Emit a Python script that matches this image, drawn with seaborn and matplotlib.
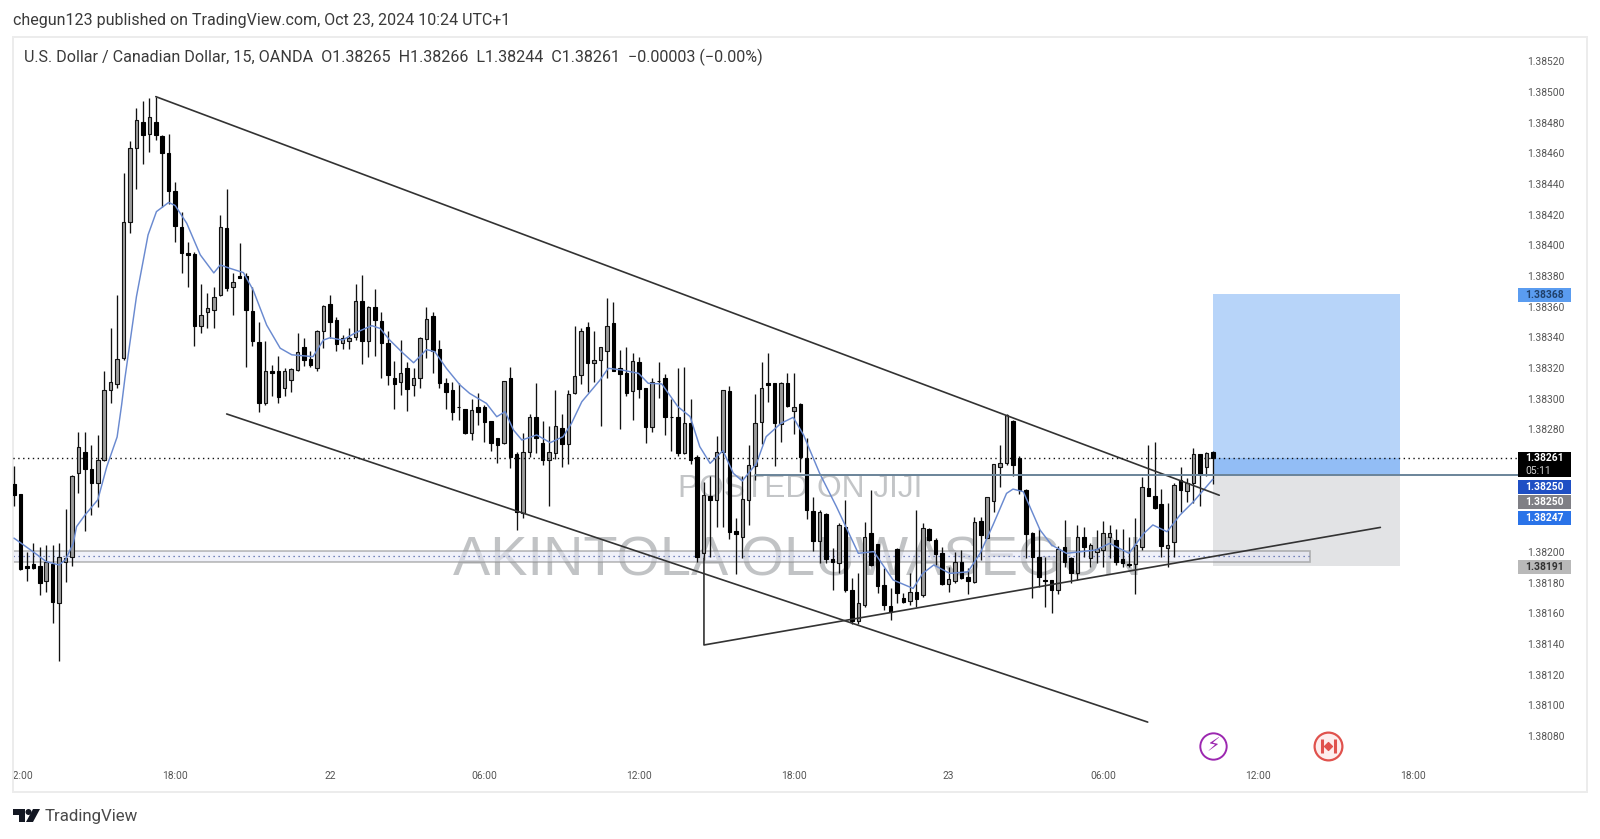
import pandas as pd
import numpy as np
import matplotlib.pyplot as plt
from matplotlib.patches import Rectangle, Polygon, Circle
import seaborn as sns

# USDCAD 15m candles, prices as points above 1.38000
base = 1.38
candle_open = [244,237.6,190.5,192.2,190.5,181.3,192,166.5,193.7,197,
    251.3,265.5,254,245.2,260,305.7,309.6,326.4,415.5,463.3,
    480.3,472.5,480.3,471,460,435.7,412,394.9,394.2,347.5,
    356.4,357.9,367.7,411.2,372.7,380,380,357.2,336.8,297.4,
    317.7,318,306.8,312,318.8,333.5,325.6,319.7,344.3,361.5,
    351.3,336,337.6,340,363.9,337.6,360,350.8,336,313.7,
    311,319.7,308.9,313.2,338.7,353.9,332.1,310,305.6,294.7,
    293,277.4,294.3,294.7,285.4,274.1,271.3,313.7,263.7,225.2,
    265.4,288.2,270.8,260,264.7,281,270.2,303.4,315.4,346.5,
    323,325.2,331.3,349.6,319.8,316.5,305.2,323.9,306.7,281.7,
    311.7,313.7,288.3,288.3,264.4,283.9,262.2,199.1,236.5,233.9,
    265.4,305,213.9,209.6,233.9,256.1,285,310,310,283.5,
    310,292.2,296.5,261.1,227,207.2,224.6,195.2,192.6,216.5,
    175.2,155,165.4,212.2,205,178.4,164.7,201.7,169.7,168.2,
    174.1,171.9,214.7,207.8,199.1,178.9,181.3,193.6,183.4,180.6,
    220.2,209.3,233.4,255.6,257.8,285.6,261,240.4,212.1,196.9,
    181.7,181.7,175.2,203.4,195.8,186,209.5,195.8,200,201.3,
    210,207.8,195.4,191.9,192.1,203.4,241.5,236.5,231.3,202.3,
    206.7,247,240,245.2,263.7,255.6,265]
candle_high = [256,238,200,206,203.5,204.6,204.4,206,228,250,
    278.5,278,269.8,276,317.7,346,367.7,447,468,489.9,
    494.4,496,497,472,472.5,441.6,422,402.5,395.5,374.6,
    368.8,373,419.9,436.6,381.8,401.4,381.8,372.7,350.3,337.9,
    322,327.5,319.9,320,342.7,339.5,331,344.5,361,367.6,
    353.4,341.5,345.8,374.5,380.6,360.4,371.3,356.3,344,324.7,
    338.2,324.1,319.7,340,360,356.3,338.2,313.7,311,310,
    293,299.5,303.9,295.8,285.4,274.1,311.7,320.4,265.4,277.8,
    289.8,310,285.6,282.1,305.6,290,305.6,347.6,345.8,350.2,
    344,334,365.9,363.3,331.7,333.5,330,327.4,306.7,313.3,
    324.1,315.9,299.6,319.8,320.4,299.6,263.3,245.9,249.6,275.9,
    305.7,308.3,222,249.6,269.8,303,324.1,330,310,311,
    317,317,297.4,274.1,235.7,227.4,225.2,202.4,218.7,233.9,
    182.8,186.5,219.8,240.4,205,189.3,176.2,202.3,173,186.5,
    227.3,219,215.4,208.9,203,190.4,200.2,201.2,189.3,223,
    223,236,257.3,269.7,290,286,262.8,240.8,213.2,214.7,
    196.9,181.7,203.9,220.8,196.9,217.6,216,206,214.3,220.2,
    217.6,214.7,214.7,209.9,221.9,249.1,269.7,271.5,240.8,231.7,
    244.7,255.2,248,268,263.7,265.4,266]
candle_low = [230,188,181,189,172,174,153.5,129,180.7,191,
    238.3,213.7,224,229.6,259,297,307,325,408.3,437,
    453,460.7,468.8,425,427,402,382,372.7,334.4,343,
    346.4,346.4,367,370.5,354.6,379,320.5,334.4,291.5,296,
    301.8,297.4,301.8,304.6,317.7,321,320.4,318.2,332.8,339.3,
    331.3,332.1,332.1,338.2,322.6,327.4,328,313.2,308.9,293.2,
    302.4,292.1,301.7,306.7,326.3,316.5,306.7,293.2,286,286,
    277,273,282.8,271.9,265.8,258.2,270.4,254.5,214.6,222.4,
    262.1,264.3,256.7,230,260.6,255.6,257.4,303,309.5,304.1,
    311,282.4,313.3,318,280.2,301.7,286.1,300.2,271.3,278,
    300.2,276.3,266.1,262.8,263.9,257.2,193.7,194.8,197,216.1,
    216.1,208.3,185.7,195.9,217.6,247,270.2,298,256.3,272,
    294.4,276.7,252,221.3,200.9,192.6,193,175.2,186,174,
    153,153,164,191,173.5,162.1,155.6,166.5,167,165.4,
    164.3,170.4,207,191.5,178.4,174.1,180,182.1,172.6,179.5,
    194.7,208.9,226.3,242.6,256.7,249.5,237.8,195.8,169.7,177.3,
    163.9,160.4,172.6,190.4,179.5,181.7,196.9,190.4,192.6,190.4,
    195.8,191.5,190.4,190.4,172.6,201.3,236.5,228,196.5,190.4,
    196.5,226.3,232.4,231.7,230,249.5,244]
candle_close = [237,188.7,189.2,189.2,179.6,193.3,167.2,197,195.9,249.6,
    268.7,254,245.2,260,305.7,311,325.7,415.5,463.8,481.8,
    472,484,472,460,435.5,412.9,395,393.8,347.5,354.6,
    359,366.6,412.2,372,376.4,379,357.9,337.7,297.4,317.7,
    316.6,300.9,318,319.6,330.7,325.5,321.9,344.1,360.6,350,
    335.6,339.7,339.7,363.9,337.6,360,351.3,336,315.4,309.5,
    316.9,306,313.7,339.7,351.7,331.3,310.4,304.5,291,294.3,
    277.4,292.6,291.3,285,271.3,269.7,311.7,262.1,225.8,265.4,
    288.2,274.1,260,265.4,282.1,270.2,303,315,344.3,323,
    325.2,333.5,347.6,318.3,315.9,303.9,324.8,306.1,281.7,310.7,
    311.3,287.8,287.8,264.4,283.9,260,196.9,237.2,233.9,265.4,
    305.7,213.3,211.7,234.4,256.7,283.9,306.7,308.7,284.4,310.4,
    295.2,294.8,261.7,227.4,207.2,226.3,195.2,193.7,217.6,175.2,
    155,167,210,191.5,177.8,165.4,161,173,167.1,174.1,
    169.1,215.4,207.8,198.6,179.1,182.1,193.6,182.8,181.3,219.3,
    211,236,257.3,258.2,289.3,256.7,240.4,211.7,196.9,183.4,
    181.3,175.2,201.7,193.6,186,209.5,203,204.5,201.7,212.1,
    212.1,193.6,192.6,191.5,204.5,242.1,236.5,228.4,203.9,204.5,
    243.7,240.4,244.8,263.7,250.9,264.3,261]

# moving average, sampled along the blue line (bar index, points)
ema_bar = [0,3,5,7,8,9.2,9.7,11,13,14.4,16,16.7,17.2,19,20.8,22.1,24,25,26.8,28.9,31,32,33.5,35.6,37.1,39.2,41.3,43.1,
    46.4,48,49,51,53,55.5,56.8,58.3,60.4,62,64,65.3,67.1,69.2,70.7,73.3,74.9,76.2,77.5,78.8,81.1,83.2,85.2,86.5,88.1,
    90.9,92.2,94.3,96.9,98.4,100.5,103,104.9,106.4,108,110,111.6,113,115.2,116.7,119,120.9,122.5,125,127.6,131,133.4,
    136.4,139.5,141,142.7,145.2,148,149.9,151.9,154,155,156.6,159.2,161,163.3,167.9,170,173,175.3,176.7,178.9,180.9,183,186]
ema_pts = [209,200,193.7,191.5,195,205.7,216.5,224,234,255.7,275,296,313,366.6,406.8,422,428,426,414.4,393.8,382,387.2,385,382.2,370.9,348,332.9,328.6,
    327.4,338.2,339.7,338.2,343,347.6,345.8,338.2,329.5,323.4,332,330.6,319.7,308.9,303.4,296.9,288.2,291.5,279.5,273,276.3,271.3,275.2,283.9,298,
    312,319.8,318.7,316.5,310,309.6,294.8,288.3,268.7,257.8,266.1,251.3,246.3,257.8,275.2,283.9,287.8,276.3,251.3,229.6,199.1,200.2,
    181.7,176.2,186,191.5,186,187,199.1,217.6,238.2,241,239.3,214.3,204.5,199.1,201.3,205.6,199.1,212.1,217.6,213.2,224,232.8,247.4]

price_ticks = [520,500,480,460,440,420,400,380,360,340,320,300,280,200,180,160,140,120,100,80]
time_ticks = [1,25,49,73,97,121,145,169,193,217]
time_labels = ["12:00","18:00","22","06:00","12:00","18:00","23","06:00","12:00","18:00"]


def pr(pts):
    return base + np.asarray(pts, dtype=float) / 1e5


df = pd.DataFrame({"bar": np.arange(len(candle_open)), "open": pr(candle_open), "high": pr(candle_high),
                   "low": pr(candle_low), "close": pr(candle_close)})
df["up"] = df["close"] >= df["open"]
ema = pd.DataFrame({"bar": ema_bar, "price": pr(ema_pts)})

sns.set_theme(style="white")
plt.rcParams["font.family"] = ["Roboto", "DejaVu Sans"]

W, H = 1600, 839
fig = plt.figure(figsize=(W / 100, H / 100), dpi=100, facecolor="white")
ax = fig.add_axes([13 / W, (H - 792) / H, 1574 / W, 755 / H])
ax.set_xlim(-0.155, 244.06)
ax.set_ylim(pr(43.4), pr(535.9))
for s in ax.spines.values():
    s.set_color("#ececec")
    s.set_linewidth(1.4)

# long position box
ax.add_patch(Rectangle((186, pr(250)), 29, pr(368) - pr(250), fc="#b7d4f9", ec="none", zorder=1))
ax.add_patch(Rectangle((186, pr(250)), 29, pr(261) - pr(250), fc="#92bdf5", ec="none", zorder=1.1))
ax.add_patch(Rectangle((186, pr(191)), 29, pr(250) - pr(191), fc="#e2e3e5", ec="none", zorder=1))

# watermarks sit under the candles
ax.text(122, pr(241.2), "POSTED ON JIJI", fontsize=22.8, family="Liberation Sans", color="#c3c5c7",
        ha="center", va="center", zorder=1.3)
ax.text(121.6, pr(193.8), "AKINTOLA OLUWASEGUN", fontsize=40.2, family="Liberation Sans", color="#c1c3c5",
        ha="center", va="center", zorder=1.3)

# zone rectangle on the left
ax.add_patch(Rectangle((-1, pr(193.7)), 202.1, pr(200.6) - pr(193.7), fc="#e6e8f5", ec="#8c8c8c", lw=1.2,
                       alpha=0.6, zorder=1.5))
ax.plot([-1, 201], [pr(197.2), pr(197.2)], color="#4a5fa8", lw=0.9, ls=(0, (1, 3)), zorder=1.6)

# candles
ax.vlines(df["bar"], df["low"], df["high"], color="#111111", lw=0.95, zorder=3)
up = df[df["up"]]
dn = df[~df["up"]]
ax.bar(up["bar"], up["close"] - up["open"], bottom=up["open"], width=0.54, color="#9a9a9a", edgecolor="#111111",
       linewidth=0.8, zorder=4)
ax.bar(dn["bar"], dn["open"] - dn["close"], bottom=dn["close"], width=0.54, color="#000000", edgecolor="#000000",
       linewidth=0.8, zorder=4)

sns.lineplot(data=ema, x="bar", y="price", color="#6a8ad0", lw=1.05, sort=False, estimator=None, ax=ax, zorder=5)

# drawings
ink = "#333333"
ax.plot([22, 187], [pr(497), pr(237)], color=ink, lw=1.2, zorder=6)
ax.plot([33, 175.9], [pr(290), pr(89)], color=ink, lw=1.2, zorder=6)
ax.plot([107.05, 107.05, 212], [pr(196), pr(139.3), pr(216)], color=ink, lw=1.2, zorder=6)
ax.plot([115, 233.3], [pr(250), pr(250)], color="#6a8499", lw=1.4, zorder=6)
ax.plot([-1, 233.3], [pr(261), pr(261)], color="#111111", lw=1.0, ls=(0, (1, 2.5)), zorder=6)

# event icons
ax.scatter([186], [pr(73.4)], s=360, fc="white", ec="#9c27b0", lw=1.4, zorder=8)
ax.text(186, pr(73.4), "\u26a1", fontsize=14, color="#9c27b0", family="DejaVu Sans", ha="center", va="center", zorder=9)
ax.scatter([203.9], [pr(73.4)], s=400, fc="#fdeeee", ec="#e0524d", lw=1.6, zorder=8)
ax.scatter([202.9, 204.9], [pr(73.4), pr(73.4)], s=90, marker="|", color="#e0524d", lw=2.2, zorder=9)
ax.scatter([203.9], [pr(73.4)], s=16, marker="D", color="#e0524d", zorder=9)

# price axis, labels sit inside the pane
ax.yaxis.tick_right()
ax.set_yticks(pr(price_ticks))
ax.set_yticklabels(["%.5f" % v for v in pr(price_ticks)])
ax.set_xticks(time_ticks)
ax.set_xticklabels(time_labels)
ax.tick_params(axis="y", length=0, pad=-43, labelsize=7.4, labelcolor="#555555")
ax.tick_params(axis="x", length=0, pad=-15, labelsize=7.4, labelcolor="#555555")
ax.set_xlabel("")
ax.set_ylabel("")
for lab in ax.get_xticklabels():
    lab.set_clip_box(ax.bbox)
    lab.set_clip_on(True)

# price tags
tags = [("1.38368", 367.4, "#5a9cf0", "#20406a"), ("1.38250", 242.6, "#1f4fc4", "white"),
        ("1.38250", 232.6, "#7f7f85", "white"), ("1.38247", 222.4, "#2a73e8", "white"),
        ("1.38191", 190.2, "#b9b9b9", "#333333")]
for txt, y, fc, tc in tags:
    ax.add_patch(Rectangle((233.4, pr(y - 4.6)), 8.1, pr(y + 4.6) - pr(y - 4.6), fc=fc, ec="none", zorder=10))
    ax.text(234.5, pr(y), txt, fontsize=7.4, color=tc, va="center", ha="left", weight="bold", zorder=11)
ax.add_patch(Rectangle((233.4, pr(249)), 8.1, pr(265.3) - pr(249), fc="#000000", ec="none", zorder=10))
ax.text(234.5, pr(261), "1.38261", fontsize=7.4, color="white", va="center", ha="left", weight="bold", zorder=11)
ax.text(234.5, pr(253), "05:11", fontsize=7.4, color="#cfcfcf", va="center", ha="left", zorder=11)

# header and footer
fig.text(13 / W, 1 - 21 / H, "chegun123 published on TradingView.com, Oct 23, 2024 10:24 UTC+1", fontsize=11.55,
         color="#3a3a3a", va="center")
fig.text(24.5 / W, 1 - 57 / H,
         "U.S. Dollar / Canadian Dollar, 15, OANDA  O1.38265  H1.38266  L1.38244  C1.38261  \u22120.00003 (\u22120.00%)",
         fontsize=11.6, color="#3a3a3a", va="center")
fig.text(45 / W, 1 - 816 / H, "TradingView", fontsize=12.2, color="#4a4a4a", va="center")


def px(points):
    return [(x / W, 1 - y / H) for x, y in points]


logo = "#131722"
fig.add_artist(Polygon(px([(13, 809), (25, 809), (25, 822), (19, 822), (19, 815), (13, 815)]), fc=logo, ec="none",
                       transform=fig.transFigure))
fig.add_artist(Polygon(px([(33, 809), (40, 809), (33, 822), (26, 822)]), fc=logo, ec="none", transform=fig.transFigure))
fig.add_artist(Circle((28.5, H - 812), 3, fc=logo, ec="none", transform=None))

fig.savefig("out.png", dpi=100)
